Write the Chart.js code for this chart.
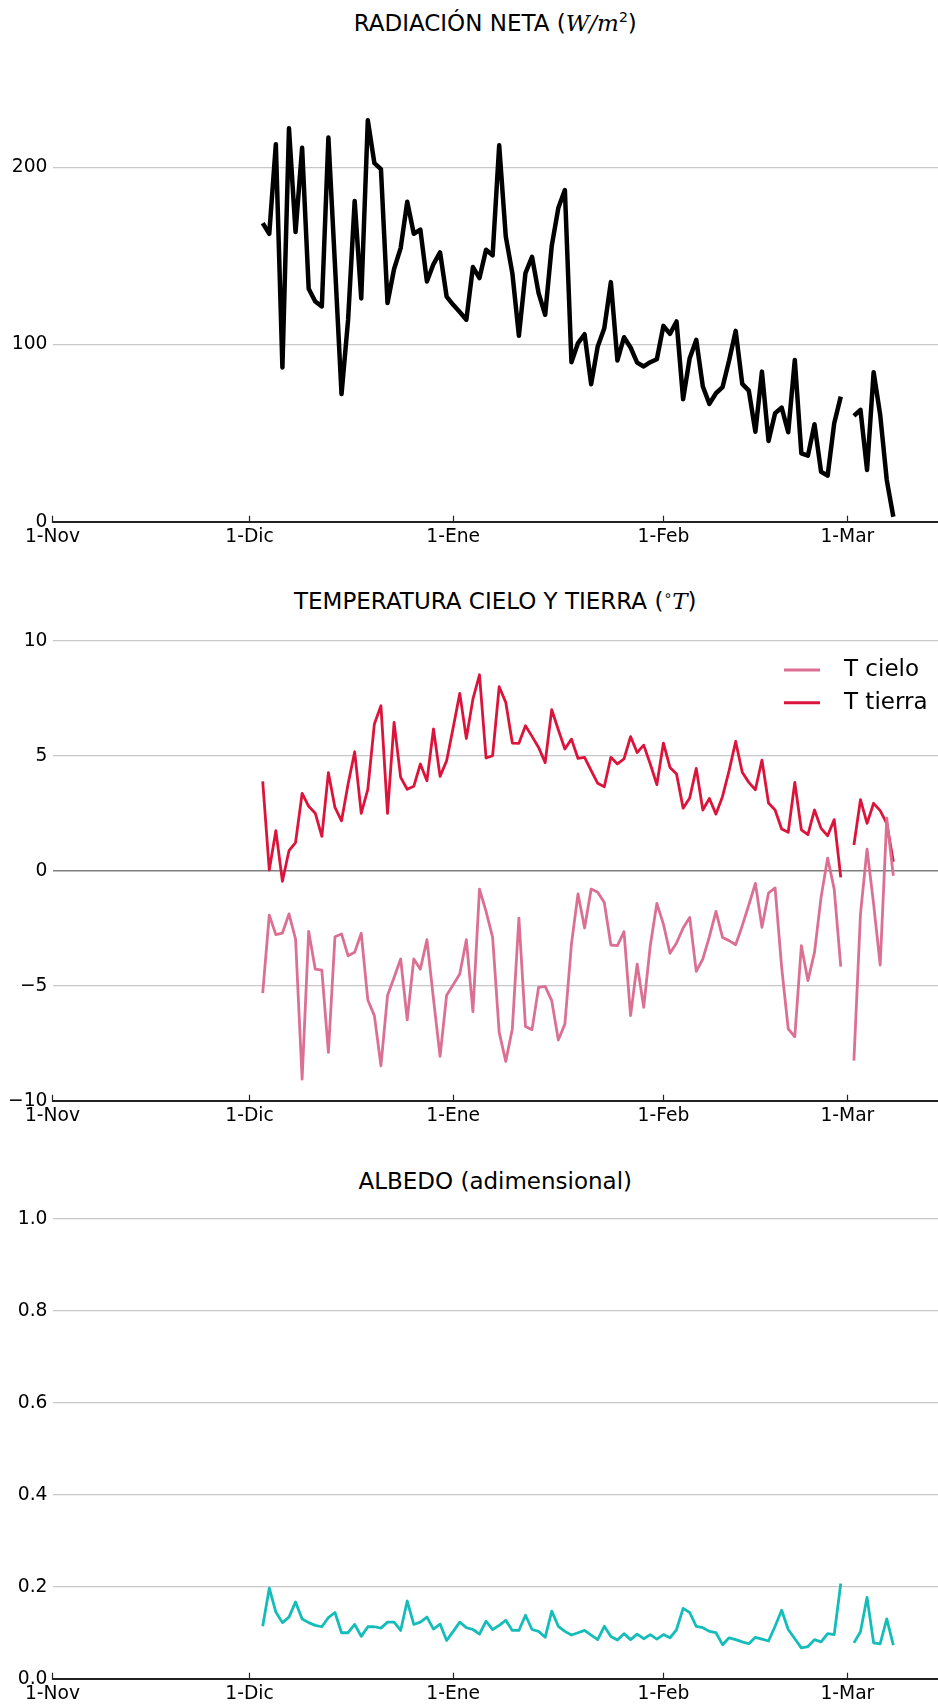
<!DOCTYPE html>
<html>
<head>
<meta charset="utf-8">
<script src="https://cdn.jsdelivr.net/npm/chart.js@4.4.1/dist/chart.umd.min.js"></script>
<style>
  body { margin: 0; background: #fff; width: 938px; height: 1706px; overflow: hidden; position: relative; }
  canvas { position: absolute; left: 0; }
  .titulo { position: absolute; left: 52.5px; width: 885.5px; height: 30px; line-height: 30px;
            text-align: center; font: 23px "DejaVu Sans"; color: #000; white-space: nowrap; }
  .m { font-family: "DejaVu Serif"; font-style: italic; }
  sup { font-size: 14px; line-height: 0; }
</style>
</head>
<body>
<div class="titulo" style="top:10px">RADIACIÓN NETA (<span class="m">W/m</span><sup>2</sup>)</div>
<canvas id="radiacion" width="938" height="570" style="top:0px"></canvas>
<div class="titulo" style="top:588px">TEMPERATURA CIELO Y TIERRA (<sup>∘</sup><span class="m">T</span>)</div>
<canvas id="temperatura" width="938" height="579" style="top:570px"></canvas>
<div class="titulo" style="top:1168px">ALBEDO (adimensional)</div>
<canvas id="albedo" width="938" height="557" style="top:1149px"></canvas>
<script>
// dias contados desde el 1-Nov (primer dato: 3-Dic)
const dias = [
  32, 33, 34, 35, 36, 37, 38, 39, 40, 41, 42, 43, 44, 45, 46, 47, 48, 49, 50, 51,
  52, 53, 54, 55, 56, 57, 58, 59, 60, 61, 62, 63, 64, 65, 66, 67, 68, 69, 70, 71,
  72, 73, 74, 75, 76, 77, 78, 79, 80, 81, 82, 83, 84, 85, 86, 87, 88, 89, 90, 91,
  92, 93, 94, 95, 96, 97, 98, 99, 100, 101, 102, 103, 104, 105, 106, 107, 108, 109, 110, 111,
  112, 113, 114, 115, 116, 117, 118, 119, 120, 121, 122, 123, 124, 125, 126, 127, 128
];

// marcas del eje x
const tickDias = [0, 30, 61, 93, 121];
const tickEtiquetas = ['1-Nov', '1-Dic', '1-Ene', '1-Feb', '1-Mar'];

const radiacion = [
  168.5, 162.5, 213, 87, 222, 163.5, 211, 131.5, 124.3, 121.5,
  216.8, 145, 72, 114, 181, 126, 226.5, 202.4, 199, 123.4,
  142.6, 154.4, 180.6, 162.5, 164.8, 135.6, 145.4, 152, 127, 122.4,
  118.3, 114, 143.7, 137.5, 153.5, 150.3, 212.4, 161, 140.3, 105,
  140.3, 149.5, 129, 116.8, 155.7, 177, 187.2, 90, 100.8, 105.8,
  77.6, 98.9, 109.2, 135.2, 91, 104.1, 98.3, 89.8, 87.6, 90,
  91.7, 110.5, 106, 113, 69.1, 92.3, 102.6, 76.3, 66.5, 72.5,
  75.9, 91, 107.7, 77.8, 74, 50.8, 84.7, 45.6, 61.2, 64.4,
  50.5, 91.3, 38.6, 37.3, 55, 28.2, 26, 55.6, 70.6, null,
  59.7, 63.1, 29.2, 84.4, 60.3, 23.5, 2.8
];

const tCielo = [
  -5.32, -1.93, -2.78, -2.71, -1.88, -2.97, -9.06, -2.64, -4.28, -4.32,
  -7.9, -2.87, -2.75, -3.7, -3.55, -2.72, -5.62, -6.3, -8.48, -5.43,
  -4.64, -3.84, -6.48, -3.84, -4.28, -3.0, -5.58, -8.07, -5.41, -4.96,
  -4.49, -3.0, -6.13, -0.8, -1.77, -2.9, -7.03, -8.29, -6.88, -2.06,
  -6.77, -6.91, -5.07, -5.03, -5.65, -7.36, -6.67, -3.19, -1.01, -2.49,
  -0.8, -0.94, -1.38, -3.23, -3.26, -2.65, -6.3, -4.06, -5.94, -3.26,
  -1.42, -2.32, -3.59, -3.14, -2.49, -2.03, -4.38, -3.84, -2.87, -1.77,
  -2.9, -3.04, -3.22, -2.39, -1.49, -0.55, -2.46, -0.97, -0.75, -4.2,
  -6.88, -7.22, -3.26, -4.78, -3.55, -1.16, 0.55, -0.8, -4.17, null,
  -8.26, -1.88, 0.94, -1.45, -4.1, 2.28, -0.22
];

const tTierra = [
  3.88, 0.03, 1.74, -0.46, 0.87, 1.22, 3.36, 2.8, 2.5, 1.49,
  4.26, 2.75, 2.17, 3.77, 5.17, 2.49, 3.54, 6.38, 7.17, 2.49,
  6.45, 4.06, 3.54, 3.67, 4.64, 3.91, 6.16, 4.1, 4.78, 6.23,
  7.71, 5.75, 7.46, 8.52, 4.9, 5.0, 8.0, 7.32, 5.55, 5.54,
  6.3, 5.84, 5.36, 4.7, 7.0, 6.13, 5.29, 5.72, 4.88, 4.93,
  4.35, 3.8, 3.65, 4.93, 4.64, 4.86, 5.83, 5.14, 5.46, 4.64,
  3.74, 5.55, 4.49, 4.2, 2.72, 3.16, 4.45, 2.64, 3.14, 2.46,
  3.23, 4.35, 5.62, 4.28, 3.84, 3.52, 4.81, 2.94, 2.64, 1.81,
  1.67, 3.84, 1.78, 1.57, 2.64, 1.84, 1.52, 2.22, -0.29, null,
  1.12, 3.09, 2.06, 2.93, 2.61, 2.06, 0.39
];

const albedo = [
  0.114, 0.197, 0.145, 0.122, 0.134, 0.167, 0.130, 0.122, 0.116, 0.113,
  0.133, 0.144, 0.100, 0.100, 0.118, 0.092, 0.113, 0.113, 0.110, 0.123,
  0.123, 0.105, 0.169, 0.118, 0.123, 0.134, 0.108, 0.119, 0.083, 0.103,
  0.123, 0.111, 0.107, 0.097, 0.125, 0.107, 0.116, 0.127, 0.105, 0.105,
  0.138, 0.107, 0.103, 0.090, 0.147, 0.114, 0.103, 0.095, 0.100, 0.105,
  0.095, 0.085, 0.114, 0.092, 0.084, 0.098, 0.085, 0.097, 0.087, 0.096,
  0.086, 0.096, 0.089, 0.107, 0.153, 0.144, 0.114, 0.111, 0.103, 0.100,
  0.074, 0.089, 0.085, 0.080, 0.076, 0.090, 0.086, 0.082, 0.114, 0.149,
  0.107, 0.087, 0.067, 0.070, 0.085, 0.080, 0.098, 0.096, 0.207, null,
  0.078, 0.102, 0.177, 0.078, 0.076, 0.130, 0.073
];

Chart.defaults.font.family = '"DejaVu Sans"';
Chart.defaults.font.size = 18.7;
Chart.defaults.color = '#000';

function puntos(valores) {
  return dias.map((d, i) => ({ x: d, y: valores[i] }));
}

function menos(v) {
  return String(v).replace('-', '\u2212');
}

// leyenda dentro del area del grafico, arriba a la derecha
const leyenda = {
  id: 'leyenda',
  afterDraw(chart, args, opts) {
    if (!opts.mostrar) return;
    const ctx = chart.ctx;
    const a = chart.chartArea;
    chart.data.datasets.forEach((ds, i) => {
      const y = a.top + 29.3 + i * 32.7;
      ctx.save();
      ctx.strokeStyle = ds.borderColor;
      ctx.lineWidth = 3;
      ctx.beginPath();
      ctx.moveTo(a.right - 154, y);
      ctx.lineTo(a.right - 118, y);
      ctx.stroke();
      ctx.fillStyle = '#000';
      ctx.font = '23px "DejaVu Sans"';
      ctx.textBaseline = 'middle';
      ctx.fillText(ds.label, a.right - 94, y);
      ctx.restore();
    });
  }
};

function hacerGrafico(id, datasets, yMin, yMax, yTicks, yFormato, padTop, altoEjeX, conLeyenda) {
  return new Chart(document.getElementById(id), {
    type: 'line',
    data: { datasets: datasets },
    options: {
      responsive: false,
      animation: false,
      devicePixelRatio: 1,
      layout: { padding: { top: padTop, left: 0, right: 0, bottom: 0 } },
      elements: { point: { radius: 0 }, line: { tension: 0, borderJoinStyle: 'round' } },
      plugins: {
        legend: { display: false },
        tooltip: { enabled: false },
        leyenda: { mostrar: conLeyenda }
      },
      scales: {
        x: {
          type: 'linear',
          min: 0,
          max: 134.8,
          afterBuildTicks: s => { s.ticks = tickDias.map(v => ({ value: v })); },
          afterFit: s => { s.height = altoEjeX; },
          ticks: { autoSkip: false, maxRotation: 0, padding: 10, callback: (v, i) => tickEtiquetas[i] },
          grid: { drawOnChartArea: false, drawTicks: true, tickLength: -6, tickColor: '#222', tickWidth: 1.2 },
          border: { display: true, color: '#222', width: 2 }
        },
        y: {
          min: yMin,
          max: yMax,
          afterBuildTicks: s => { s.ticks = yTicks.map(v => ({ value: v })); },
          afterFit: s => { s.width = 52.5; },
          ticks: { padding: 5, callback: v => yFormato(v) },
          grid: {
            drawTicks: false,
            color: c => (c.tick && c.tick.value === 0 && yMin < 0) ? '#808080' : '#c8c8c8',
            lineWidth: c => (c.tick && c.tick.value === 0 && yMin < 0) ? 1.6 : 1.2
          },
          border: { display: false }
        }
      }
    },
    plugins: [leyenda]
  });
}

hacerGrafico('radiacion', [{
  label: 'Radiación neta',
  data: puntos(radiacion),
  borderColor: '#000000',
  borderWidth: 4.5,
  spanGaps: false
}], 0, 260, [0, 100, 200], v => String(v), 61, 48.3, false);

hacerGrafico('temperatura', [{
  label: 'T cielo',
  data: puntos(tCielo),
  borderColor: '#DB7093',
  borderWidth: 2.8,
  spanGaps: false
}, {
  label: 'T tierra',
  data: puntos(tTierra),
  borderColor: '#DC143C',
  borderWidth: 2.8,
  spanGaps: false
}], -10, 10, [-10, -5, 0, 5, 10], v => menos(v), 70.7, 48.3, true);

hacerGrafico('albedo', [{
  label: 'Albedo',
  data: puntos(albedo),
  borderColor: '#14BDBA',
  borderWidth: 2.8,
  spanGaps: false
}], 0, 1, [0, 0.2, 0.4, 0.6, 0.8, 1.0], v => v.toFixed(1), 70, 27.3, false);
</script>
</body>
</html>
